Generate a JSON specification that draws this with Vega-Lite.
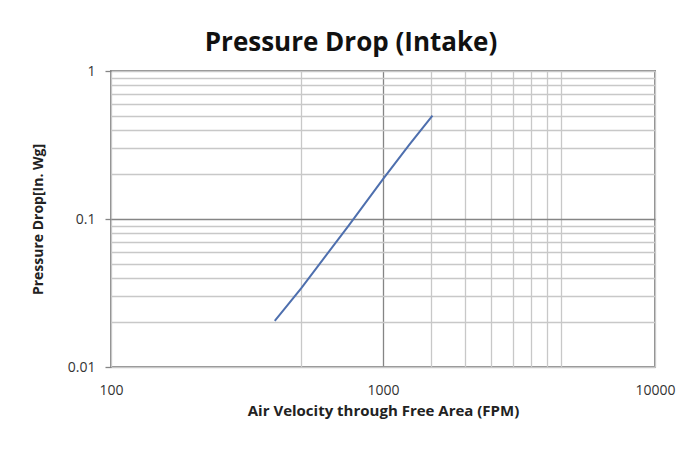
{
  "$schema": "https://vega.github.io/schema/vega-lite/v6.json",
  "width": 544,
  "height": 296,
  "autosize": {"type": "none"},
  "padding": {"left": 111, "top": 71, "right": 32, "bottom": 88},
  "background": "white",
  "title": {
    "text": "Pressure Drop (Intake)",
    "font": "Open Sans",
    "fontSize": 26,
    "fontWeight": "bold",
    "color": "#111111",
    "anchor": "middle",
    "frame": "group",
    "dx": -32,
    "offset": 8
  },
  "data": {
    "values": [
      {"velocity": 400, "drop": 0.0205},
      {"velocity": 500, "drop": 0.034},
      {"velocity": 750, "drop": 0.091},
      {"velocity": 1000, "drop": 0.186},
      {"velocity": 1250, "drop": 0.318},
      {"velocity": 1520, "drop": 0.5}
    ]
  },
  "mark": {"type": "line", "color": "#4e6fae", "strokeWidth": 2},
  "encoding": {
    "x": {
      "field": "velocity",
      "type": "quantitative",
      "scale": {"type": "log", "domain": [100, 10000], "nice": false},
      "axis": {
        "title": "Air Velocity through Free Area (FPM)",
        "values": [100, 500, 1000, 1500, 2000, 2500, 3000, 3500, 4000, 4500, 10000],
        "labelExpr": "datum.value == 100 || datum.value == 1000 || datum.value == 10000 ? format(datum.value, 'd') : ''",
        "ticks": false,
        "domain": false,
        "grid": true,
        "gridColor": {"condition": {"test": "datum.value == 1000", "value": "#858585"}, "value": "#c8c8c8"},
        "gridWidth": 1.3,
        "labelPadding": 16,
        "labelFont": "Open Sans",
        "labelFontSize": 14,
        "labelColor": "#333333",
        "labelFlush": false,
        "labelOverlap": false,
        "titleFont": "Open Sans",
        "titleFontSize": 15,
        "titleFontWeight": "bold",
        "titleColor": "#222222",
        "titlePadding": 6
      }
    },
    "y": {
      "field": "drop",
      "type": "quantitative",
      "scale": {"type": "log", "domain": [0.01, 1], "nice": false},
      "axis": {
        "title": "Pressure Drop[In. Wg]",
        "values": [0.01, 0.02, 0.03, 0.04, 0.05, 0.06, 0.07, 0.08, 0.09, 0.1, 0.2, 0.3, 0.4, 0.5, 0.6, 0.7, 0.8, 0.9, 1],
        "labelExpr": "datum.value == 0.01 ? '0.01' : datum.value == 0.1 ? '0.1' : datum.value == 1 ? '1' : ''",
        "tickSize": 6,
        "tickColor": "#858585",
        "tickWidth": 1.3,
        "tickOpacity": {"condition": {"test": "datum.value == 0.01 || datum.value == 0.1 || datum.value == 1", "value": 1}, "value": 0},
        "domain": false,
        "grid": true,
        "gridColor": {"condition": {"test": "datum.value == 0.1", "value": "#858585"}, "value": "#c8c8c8"},
        "gridWidth": 1.3,
        "labelPadding": 10,
        "labelFont": "Open Sans",
        "labelFontSize": 14,
        "labelColor": "#333333",
        "labelOverlap": false,
        "labelFlush": false,
        "titleFont": "Open Sans",
        "titleFontSize": 14,
        "titleFontWeight": "bold",
        "titleColor": "#222222",
        "titlePadding": 22
      }
    }
  },
  "config": {
    "view": {"stroke": "#8c8c8c", "strokeWidth": 2}
  }
}
